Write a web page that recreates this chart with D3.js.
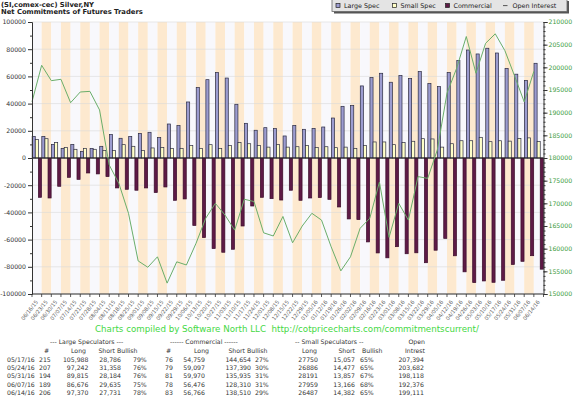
<!DOCTYPE html>
<html>
<head>
<meta charset="utf-8">
<script src="https://cdn.jsdelivr.net/npm/d3@7"></script>
<style>
  body { margin: 0; background: #fff; }
  svg { display: block; }
  text { font-family: "DejaVu Sans", Verdana, sans-serif; }
</style>
</head>
<body>
<svg id="chart" width="576" height="397"></svg>
<script>
// weekly report dates
const dates = ["06/16/15","06/23/15","06/30/15","07/07/15","07/14/15","07/21/15","07/28/15","08/04/15","08/11/15",
  "08/18/15","08/25/15","09/01/15","09/08/15","09/15/15","09/22/15","09/29/15","10/06/15","10/13/15","10/20/15",
  "10/27/15","11/03/15","11/10/15","11/17/15","11/24/15","12/01/15","12/08/15","12/15/15","12/22/15","12/29/15",
  "01/05/16","01/12/16","01/19/16","01/26/16","02/02/16","02/09/16","02/16/16","02/23/16","03/01/16","03/08/16",
  "03/15/16","03/22/16","03/29/16","04/05/16","04/12/16","04/19/16","04/26/16","05/03/16","05/10/16","05/17/16",
  "05/24/16","05/31/16","06/07/16","06/14/16"];

const largeSpec = [15900,15900,10000,7100,10000,4900,7100,8600,17200,14500,15900,18100,18900,15000,25000,23800,
  41200,51800,57600,62800,58800,39500,25500,20400,22300,21600,16200,24000,21100,21800,22800,29400,38000,38500,
  53000,59100,62300,55700,60600,58400,63500,54700,52500,62800,71800,79400,76500,80700,77202,65884,61631,57041,69639];

const smallSpec = [13500,14200,11300,7800,6400,7100,6400,5600,5600,9800,8600,5600,7400,7800,7100,7100,9100,7100,
  9800,7100,9100,11300,10500,9300,8000,9800,8000,8300,9300,7800,8300,7600,8000,7100,9300,11800,11800,9800,11300,
  12300,14200,14000,8000,10500,12700,12700,15200,12000,12693,12409,14334,14793,12105];

const commercial = [-28900,-29400,-20800,-14200,-15700,-11000,-11700,-13700,-22000,-23000,-23700,-22000,-25400,
  -21300,-31100,-30100,-49600,-58500,-66600,-69300,-67100,-50000,-35300,-28900,-29900,-30900,-23700,-31100,-29400,
  -29100,-30400,-36000,-44800,-45300,-61700,-69800,-73400,-65200,-70400,-69700,-77000,-67800,-59100,-71900,-83700,
  -91600,-90400,-91400,-89895,-78293,-75965,-71834,-81744];

const openInterest = [192400,200450,197060,197360,192200,194560,194700,190600,178460,174400,167800,157300,155900,
  158200,152400,157100,156400,161200,166700,170000,167400,164100,170900,170400,163500,162800,167100,161300,165000,
  167800,166300,160400,155100,158200,164500,166700,174700,162500,170000,166300,175900,175500,181800,194300,199800,
  206800,198700,205300,207394,203682,198118,192376,199111];

const leftTicks = d3.range(-100000, 100001, 20000);
const rightTicks = d3.range(150000, 210001, 5000);

// table below the chart
const tblDates = ["05/17/16","05/24/16","05/31/16","06/07/16","06/14/16"];
const lsCount = [215,207,194,189,206];
const lsLong = ["105,988","97,242","89,815","86,676","97,370"];
const lsShort = ["28,786","31,358","28,184","29,635","27,731"];
const lsBull = ["79%","76%","76%","75%","78%"];
const cmCount = [76,79,81,78,83];
const cmLong = ["54,759","59,097","59,970","56,476","56,766"];
const cmShort = ["144,654","137,390","135,935","128,310","138,510"];
const cmBull = ["27%","30%","31%","31%","29%"];
const ssLong = ["27750","26886","28191","27959","26487"];
const ssShort = ["15,057","14,477","13,857","13,166","14,382"];
const ssBull = ["65%","65%","67%","68%","65%"];
const oiTotal = ["207,394","203,682","198,118","192,376","199,111"];

const colors = {
  large: "#9c9cd0",
  small: "#ffffc8",
  comm: "#5e1a46",
  line: "#6aae6a",
  stripe: "#fde9cf",
  plain: "#f8f8fc",
  rightText: "#3a9a3a",
  credit: "#44d844",
};

const svg = d3.select("#chart");
const pL = 32, pR = 543.5, pT = 22, pB = 294;

const x = d3.scaleBand().domain(d3.range(dates.length)).range([pL, pR]);
const sub = d3.scaleBand().domain(["L", "S", "C"]).range([0, x.bandwidth()]).paddingOuter(0.05);
const yL = d3.scaleLinear().domain([-100000, 100000]).range([pB, pT]);
const yR = d3.scaleLinear().domain([150000, 210000]).range([pB, pT]);

svg.append("rect").attr("width", 576).attr("height", 397).attr("fill", "#fff");

// titles
svg.append("text").attr("x", 1).attr("y", 6.5).attr("font-size", 6.8).attr("font-weight", "bold")
  .attr("fill", "#222").text("(SI,comex-cec) Silver,NY");
svg.append("text").attr("x", 1).attr("y", 14).attr("font-size", 6.8).attr("font-weight", "bold")
  .attr("fill", "#222").text("Net Commitments of Futures Traders");

// stripes
svg.append("g").selectAll("rect").data(dates).join("rect")
  .attr("x", (d, i) => x(i)).attr("y", pT)
  .attr("width", x.bandwidth()).attr("height", pB - pT)
  .attr("fill", (d, i) => i % 2 ? colors.stripe : colors.plain);

// grid
svg.append("g").selectAll("line").data(leftTicks).join("line")
  .attr("x1", pL).attr("x2", pR)
  .attr("y1", d => yL(d)).attr("y2", d => yL(d))
  .attr("stroke", "#d8d8d8").attr("stroke-width", 0.6);

// bars
const bars = svg.append("g");
const series = [
  { key: "L", values: largeSpec, fill: colors.large },
  { key: "S", values: smallSpec, fill: colors.small },
  { key: "C", values: commercial, fill: colors.comm },
];
series.forEach(s => {
  bars.append("g").selectAll("rect").data(s.values).join("rect")
    .attr("x", (d, i) => x(i) + sub(s.key))
    .attr("width", sub.bandwidth())
    .attr("y", d => yL(Math.max(0, d)))
    .attr("height", d => Math.abs(yL(d) - yL(0)))
    .attr("fill", s.fill)
    .attr("stroke", s.key === "C" ? "#3a0c2a" : "#2a2a40")
    .attr("stroke-width", 0.7);
});

// zero line
svg.append("line").attr("x1", pL).attr("x2", pR)
  .attr("y1", yL(0)).attr("y2", yL(0)).attr("stroke", "#222").attr("stroke-width", 1);

// open interest line, drawn at the start of each week slot
const line = d3.line().x((d, i) => x(i)).y(d => yR(d));
svg.append("path").datum(openInterest).attr("d", line)
  .attr("fill", "none").attr("stroke", colors.line).attr("stroke-width", 1);

// left axis
const gL = svg.append("g").attr("transform", `translate(${pL},0)`)
  .call(d3.axisLeft(yL).tickValues(leftTicks).tickSize(4).tickPadding(2).tickFormat(d => String(d)));
svg.append("g").attr("transform", `translate(${pL},0)`)
  .call(d3.axisLeft(yL).tickValues(d3.range(-90000, 100000, 20000)).tickSize(2).tickFormat(""))
  .call(g => g.select(".domain").remove())
  .selectAll("line").attr("stroke", "#333");
gL.selectAll("text").attr("font-size", 6.2).attr("fill", "#333").attr("font-family", "DejaVu Sans, sans-serif");

// right axis
const gR = svg.append("g").attr("transform", `translate(${pR},0)`)
  .call(d3.axisRight(yR).tickValues(rightTicks).tickSize(4).tickPadding(1).tickFormat(d => String(d)));
svg.append("g").attr("transform", `translate(${pR},0)`)
  .call(d3.axisRight(yR).tickValues(d3.range(150000, 210001, 1000)).tickSize(2).tickFormat(""))
  .call(g => g.select(".domain").remove())
  .selectAll("line").attr("stroke", "#333");
gR.selectAll("text").attr("font-size", 6.2).attr("fill", colors.rightText).attr("font-family", "DejaVu Sans, sans-serif");
[gL, gR].forEach(g => g.selectAll("line, path").attr("stroke", "#333"));

// bottom ticks and rotated date labels
svg.append("line").attr("x1", pL).attr("x2", pR).attr("y1", pB).attr("y2", pB).attr("stroke", "#333");
svg.append("g").selectAll("line").data(d3.range(dates.length + 1)).join("line")
  .attr("x1", i => i < dates.length ? x(i) : pR).attr("x2", i => i < dates.length ? x(i) : pR)
  .attr("y1", pB).attr("y2", pB + 3).attr("stroke", "#333").attr("stroke-width", 0.8);
svg.append("g").selectAll("text").data(dates).join("text")
  .attr("transform", (d, i) => `translate(${x(i) + x.bandwidth() / 2 + 1.5},${pB + 8}) rotate(-52)`)
  .attr("text-anchor", "end").attr("font-size", 5.3).attr("fill", "#555").text(d => d);

// legend
const lg = svg.append("g");
lg.append("rect").attr("x", 334).attr("y", 1).attr("width", 235).attr("height", 12.5).attr("fill", "#555");
lg.append("rect").attr("x", 332).attr("y", -1).attr("width", 235).attr("height", 12.5)
  .attr("fill", "#e4e4e4").attr("stroke", "#666").attr("stroke-width", 0.8);
const legendItems = [
  { label: "Large Spec", fill: colors.large, x: 336 },
  { label: "Small Spec", fill: colors.small, x: 392.5 },
  { label: "Commercial", fill: colors.comm, x: 445.5 },
];
legendItems.forEach(it => {
  lg.append("rect").attr("x", it.x).attr("y", 3.5).attr("width", 4).attr("height", 4)
    .attr("fill", it.fill).attr("stroke", "#222").attr("stroke-width", 0.7);
  lg.append("text").attr("x", it.x + 8).attr("y", 8.3).attr("font-size", 6.4)
    .attr("font-family", "DejaVu Sans Mono, monospace").attr("fill", "#222").text(it.label);
});
lg.append("line").attr("x1", 503).attr("x2", 507.5).attr("y1", 5.6).attr("y2", 5.6).attr("stroke", "#555").attr("stroke-width", 1);
lg.append("text").attr("x", 512.5).attr("y", 8.3).attr("font-size", 6.4)
  .attr("font-family", "DejaVu Sans Mono, monospace").attr("fill", "#222").text("Open Interest");

// credit line
svg.append("text").attr("x", 95).attr("y", 331.5).attr("font-size", 8.7).attr("fill", colors.credit)
  .style("white-space", "pre")
  .text("Charts compiled by Software North LLC  http://cotpricecharts.com/commitmentscurrent/");

// table
const tb = svg.append("g").attr("font-size", 6.2).attr("fill", "#333");
const put = (t, xx, yy, anchor) => tb.append("text").attr("x", xx).attr("y", yy)
  .attr("text-anchor", anchor || "start").style("white-space", "pre").text(t);
put("--- Large Speculators ---", 50, 344);
put("------ Commercial ------", 170, 344);
put("-- Small Speculators --", 295, 344);
put("Open", 425, 344, "end");
put("#", 44, 352.5); put("Long", 86, 352.5, "end"); put("Short", 115, 352.5, "end"); put("Bullish", 117, 352.5);
put("#", 166, 352.5); put("Long", 209, 352.5, "end"); put("Short", 245, 352.5, "end"); put("Bullish", 247, 352.5);
put("Long", 317, 352.5, "end"); put("Short", 355, 352.5, "end"); put("Bullish", 362, 352.5);
put("Intrest", 425, 352.5, "end");
tblDates.forEach((d, i) => {
  const yy = 361.5 + i * 8.4;
  put(d, 7, yy);
  put(String(lsCount[i]), 39, yy);
  put(lsLong[i], 88.5, yy, "end");
  put(lsShort[i], 121, yy, "end");
  put(lsBull[i], 133, yy);
  put(String(cmCount[i]), 165, yy);
  put(cmLong[i], 205, yy, "end");
  put(cmShort[i], 251, yy, "end");
  put(cmBull[i], 255, yy);
  put(ssLong[i], 318, yy, "end");
  put(ssShort[i], 355, yy, "end");
  put(ssBull[i], 360, yy);
  put(oiTotal[i], 424, yy, "end");
});
</script>
</body>
</html>
